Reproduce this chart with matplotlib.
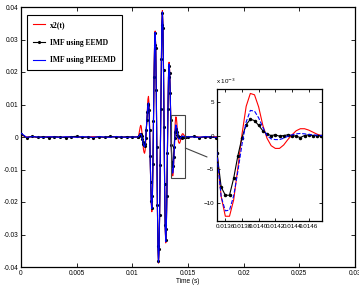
import numpy as np
import matplotlib
matplotlib.use("Agg")
import matplotlib.pyplot as plt
from matplotlib.patches import Rectangle, ConnectionPatch

# ---------------- data (values in units of 1e-3) ----------------
# quiet segment before the burst, sampled every 0.5 ms from t = 0
red_pre = [0.6, 0.0, 0.1, -0.1, 0.0, 0.1, 0.0, -0.1, 0.0, 0.1, 0.0,
           -0.1, 0.0, 0.1, 0.0, -0.1, 0.0, 0.1, 0.0, -0.1, 0.0]
blue_pre = [1.2, -0.1, 0.1, 0.0, -0.1, 0.1, 0.0, -0.1, 0.1, 0.0, -0.1,
            0.1, 0.0, -0.1, 0.1, 0.0, -0.1, 0.1, 0.0, -0.1, 0.0]
black_pre = [1.0, -0.2, 0.2, -0.1, 0.1, -0.2, 0.1, 0.0, -0.2, 0.1, 0.2,
             -0.1, 0.0, -0.2, 0.1, -0.1, 0.2, 0.0, -0.1, 0.1, 0.0]

# burst, sampled every 0.05 ms from t = 0.0105 s
red_burst = [0.0, 0.3, 1.0, 2.0, 3.0, 3.6, 3.2, 1.8, -0.2, -2.2, -3.8, -4.7, -5.0,
             -4.13, -1.70, 1.80, 5.70, 9.20, 11.63, 12.5,
             10.12, 3.63, -5.25, -14.13, -20.62, -23.0,
             -19.27, -9.1, 4.8, 18.7, 28.87, 32.6,
             27.82, 14.75, -3.1, -20.95, -34.02, -38.8,
             -34.95, -24.15, -8.61, 8.71, 24.25, 35.05, 38.9,
             34.11, 21.03, 3.15, -14.73, -27.81, -32.6,
             -28.87, -18.7, -4.8, 9.1, 19.27, 23.0,
             20.5, 14.2, 5.8, -2.5, -9.0, -11.9, -11.9, -9.5, -4.8, 0.2, 4.3,
             6.2, 6.0, 4.2, 1.5, -0.4, -1.5, -1.9, -1.9, -1.4, -0.6, 0.1, 0.7,
             1.0, 1.0, 0.8, 0.5, 0.2, 0.0, 0.0]
blue_burst = [0.0, 0.1, 0.3, 0.6, 0.9, 1.0, 0.8, 0.2, -0.6, -1.5, -2.3, -2.8, -3.0,
              -2.33, -0.46, 2.25, 5.25, 7.96, 9.83, 10.5,
              8.32, 2.38, -5.75, -13.88, -19.82, -22.0,
              -18.37, -8.45, 5.1, 18.65, 28.57, 32.2,
              27.46, 14.53, -3.15, -20.83, -33.76, -38.5,
              -34.69, -23.99, -8.59, 8.59, 23.99, 34.69, 38.5,
              33.76, 20.83, 3.15, -14.53, -27.46, -32.2,
              -28.54, -18.53, -4.85, 8.83, 18.84, 22.5,
              20.24, 14.05, 5.6, -2.85, -9.04, -11.1, -11.0, -8.9, -5.3, -1.3, 2.0,
              3.7, 3.6, 2.6, 1.2, 0.0, -0.5, -0.6, -0.6, -0.4, -0.1, 0.1, 0.25,
              0.3, 0.25, 0.15, 0.1, 0.05, 0.0, 0.0]
black_burst = [0.0, 0.1, 0.2, 0.5, 0.8, 0.9, 0.7, 0.2, -0.6, -1.4, -2.1, -2.6, -2.8,
               -2.2, -0.4, 2.2, 5.1, 7.8, 9.7, 10.3,
               8.2, 2.3, -5.8, -13.8, -19.7, -21.9,
               -18.3, -8.4, 5.0, 18.5, 28.4, 32.0,
               27.3, 14.4, -3.2, -20.8, -33.6, -38.3,
               -34.5, -23.9, -8.6, 8.5, 23.9, 34.5, 38.3,
               33.6, 20.7, 3.1, -14.4, -27.2, -31.8,
               -28.2, -18.3, -4.8, 8.6, 18.4, 21.8,
               19.6, 13.5, 5.2, -2.6, -7.6, -8.8, -8.8, -6.3, -3.0, -0.3, 1.6,
               2.4, 2.2, 1.5, 0.7, 0.2, 0.0, 0.1, -0.1, 0.0, 0.1, 0.0, -0.1,
               -0.3, 0.0, 0.1, 0.0, 0.0, 0.0, 0.0]

# quiet segment after the burst, sampled every 0.5 ms from t = 0.0150 s
red_post = [0.0, 0.1, 0.0, -0.1, 0.0, 0.1, 0.0, -0.1, 0.0, 0.1, 0.0, -0.1,
            0.0, 0.1, 0.0, -0.1, 0.0, 0.1, 0.0, -0.1, 0.0, 0.1, 0.0, 0.0]
blue_post = [0.1, 0.0, -0.1, 0.1, 0.0, -0.1, 0.1, 0.0, -0.1, 0.1, 0.0, -0.1,
             0.1, 0.0, -0.1, 0.1, 0.0, -0.1, 0.1, 0.0, -0.1, 0.1, 0.0, 0.0]
black_post = [-0.1, 0.2, -0.2, 0.1, 0.0, -0.2, 0.2, 0.0, -0.1, 0.2, -0.1, 0.0,
              0.1, -0.2, 0.1, 0.0, 0.2, -0.1, 0.0, 0.1, -0.2, 0.1, 0.0, 0.0]

labels = ["x2(t)", "IMF using EEMD", "IMF using PIEEMD"]
xticks = [0, 0.005, 0.01, 0.015, 0.02, 0.025, 0.03]
xticklabels = ["0", "0.005", "0.01", "0.015", "0.02", "0.025", "0.03"]
yticks = [-0.04, -0.03, -0.02, -0.01, 0, 0.01, 0.02, 0.03, 0.04]
yticklabels = ["-0.04", "-0.03", "-0.02", "-0.01", "0", "0.01", "0.02", "0.03", "0.04"]
inset_xlim = (0.01350, 0.01476)
inset_ylim = (-12.6, 6.9)  # x 1e-3
inset_xticks = [0.0136, 0.0138, 0.0140, 0.0142, 0.0144, 0.0146]
inset_xticklabels = ["0.0136", "0.0138", "0.0140", "0.0142", "0.0144", "0.0146"]
inset_yticks = [-10, -5, 0, 5]

# sample grids
t_pre = 0.0005 * np.arange(len(red_pre))
t_burst = 0.0105 + 0.00005 * np.arange(len(red_burst))
t_post = 0.0150 + 0.0005 * np.arange(len(red_post))
t = np.concatenate([t_pre, t_burst, t_post])
red = np.concatenate([red_pre, red_burst, red_post])
blue = np.concatenate([blue_pre, blue_burst, blue_post])
black = np.concatenate([black_pre, black_burst, black_post])

# ---------------- plotting ----------------
plt.rcParams['font.family'] = ['Liberation Sans', 'DejaVu Sans']
fig = plt.figure(figsize=(3.59, 2.88), dpi=100)
ax = fig.add_axes([21/359, 1-267/288, (355-21)/359, (267-7)/288])

ax.plot(t, red*1e-3, color='red', lw=0.8, label=labels[0], zorder=2)
ax.plot(t, black*1e-3, color='black', lw=0.8, marker='.', ms=2.5, label=labels[1], zorder=3)
ax.plot(t, blue*1e-3, color='blue', lw=0.8, label=labels[2], zorder=4)

ax.set_xlim(0, 0.03)
ax.set_ylim(-0.04, 0.04)
ax.set_xticks(xticks)
ax.set_xticklabels(xticklabels)
ax.set_yticks(yticks)
ax.set_yticklabels(yticklabels)
ax.tick_params(direction='in', length=3, width=0.6, labelsize=4.7, pad=2,
               top=True, right=True)
for s in ax.spines.values():
    s.set_linewidth(0.9)
ax.set_xlabel("Time (s)", fontsize=4.7, labelpad=1)

leg = ax.legend(loc='upper left', bbox_to_anchor=(27/359, 1-15/288),
                bbox_transform=fig.transFigure, borderaxespad=0,
                prop={'family': 'Liberation Serif', 'weight': 'bold', 'size': 5.5},
                fancybox=False, framealpha=1, edgecolor='black',
                handlelength=1.5, handletextpad=0.7, labelspacing=1.25,
                borderpad=0.8)
leg.get_frame().set_linewidth(0.8)

# zoom rectangle
rect = Rectangle((inset_xlim[0], inset_ylim[0]*1e-3),
                 inset_xlim[1]-inset_xlim[0], (inset_ylim[1]-inset_ylim[0])*1e-3,
                 fill=False, edgecolor='#444444', lw=0.8, zorder=5)
ax.add_patch(rect)

# inset
axi = fig.add_axes([217/359, 1-221/288, (322-217)/359, (221-88.7)/288])
axi.plot(t, red, color='red', lw=0.8, zorder=2)
axi.plot(t, black, color='black', lw=0.8, marker='.', ms=3, zorder=3)
axi.plot(t, blue, color='blue', lw=0.8, ls='--', zorder=4)
axi.set_xlim(*inset_xlim)
axi.set_ylim(*inset_ylim)
axi.set_xticks(inset_xticks)
axi.set_xticklabels(inset_xticklabels)
axi.set_yticks(inset_yticks)
axi.tick_params(direction='in', length=2.5, width=0.6, labelsize=4.5, pad=2,
                top=True, right=True)
for s in axi.spines.values():
    s.set_linewidth(0.9)
fig.text(216/359, 1-84/288, r"x 10$^{-3}$", fontsize=4.5, ha='left', va='baseline')

con = ConnectionPatch(xyA=(inset_xlim[1], -3.4e-3), coordsA=ax.transData,
                      xyB=(-0.095, 0.484), coordsB=axi.transAxes,
                      color='#444444', lw=0.8)
fig.add_artist(con)

fig.savefig("out.png", dpi=100)
